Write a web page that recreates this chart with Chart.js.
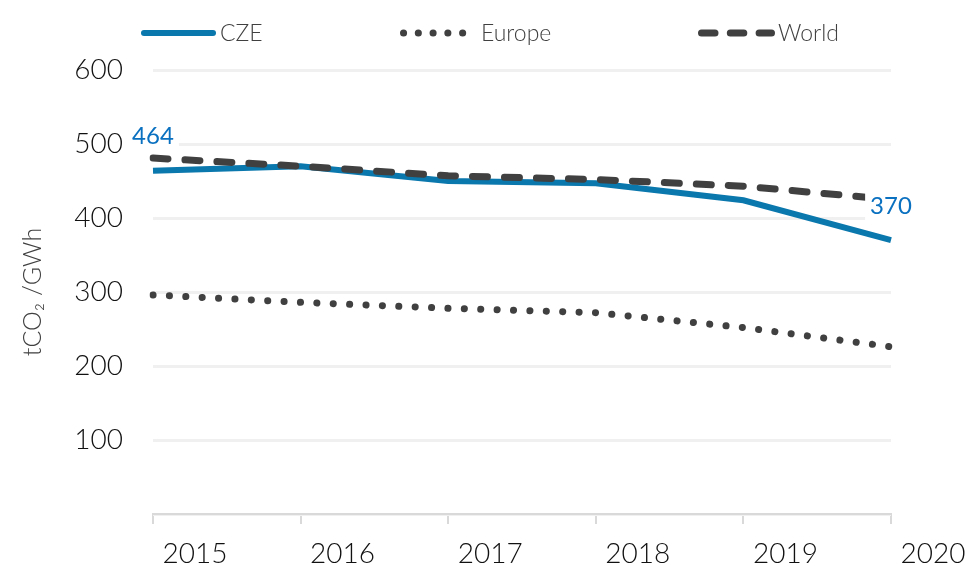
<!DOCTYPE html>
<html><head><meta charset="utf-8">
<script src="https://cdn.jsdelivr.net/npm/chart.js@4"></script>
<style>html,body{margin:0;padding:0;background:#fff}#wrap{width:973px;height:566px}</style>
</head><body><div id="wrap"><canvas id="c" width="973" height="566"></canvas></div>
<script>
const years = ['2015','2016','2017','2018','2019','2020'];
const czeValues = [464, 470, 450, 447, 424, 370];
const europeValues = [296, 286, 278, 272, 252, 226];
const worldValues = [481, 470, 457, 452, 443, 425];
const seriesNames = ['CZE', 'Europe', 'World'];
const labelledPoints = [0, 5];
const yTitle = 'tCO\u2082 /GWh';

const FONT = "Lato, 'Open Sans', sans-serif";

const legendPlugin = {
  id: 'customLegend',
  afterDraw(chart) {
    const ctx = chart.ctx;
    const starts = [141, 400, 698];
    const sampleW = [75, 74, 77];
    const textX = [220, 481, 778];
    const y = 33;
    chart.data.datasets.forEach((ds, i) => {
      ctx.save();
      ctx.strokeStyle = ds.borderColor;
      ctx.lineWidth = ds.borderWidth;
      ctx.lineCap = 'round';
      ctx.setLineDash(ds.borderDash ? ds.borderDash.map(v => v < 1 ? v : v * 0.9) : []);
      ctx.beginPath();
      ctx.moveTo(starts[i] + ds.borderWidth / 2, y);
      ctx.lineTo(starts[i] + sampleW[i] - ds.borderWidth / 2, y);
      ctx.stroke();
      ctx.setLineDash([]);
      ctx.fillStyle = '#404040';
      ctx.font = '300 23px ' + FONT;
      ctx.textBaseline = 'middle';
      ctx.textAlign = 'left';
      ctx.fillText(ds.label, textX[i], y + 1);
      ctx.restore();
    });
  }
};

const valueLabelPlugin = {
  id: 'valueLabels',
  afterDatasetsDraw(chart) {
    const ctx = chart.ctx;
    const meta = chart.getDatasetMeta(0);
    const ds = chart.data.datasets[0];
    ctx.save();
    ctx.font = '400 24px ' + FONT;
    ctx.textAlign = 'center';
    ctx.textBaseline = 'middle';
    labelledPoints.forEach(idx => {
      const pt = meta.data[idx];
      const txt = String(ds.data[idx]);
      const w = ctx.measureText(txt).width;
      const cx = pt.x, cy = pt.y - 34;
      ctx.fillStyle = '#ffffff';
      ctx.fillRect(cx - w / 2 - 5, cy - 14, w + 10, 28);
      ctx.fillStyle = '#0a70c0';
      ctx.fillText(txt, cx, cy);
    });
    ctx.restore();
  }
};

new Chart(document.getElementById('c'), {
  type: 'line',
  data: {
    labels: years,
    datasets: [
      { label: seriesNames[0], data: czeValues, borderColor: '#0a77ad', borderWidth: 6, borderCapStyle: 'butt', pointRadius: 0, tension: 0, order: 1 },
      { label: seriesNames[1], data: europeValues, borderColor: '#404040', borderWidth: 7, borderDash: [0.1, 16.3], borderCapStyle: 'round', pointRadius: 0, tension: 0, order: 2 },
      { label: seriesNames[2], data: worldValues, borderColor: '#404040', borderWidth: 7, borderDash: [15, 17], borderCapStyle: 'round', pointRadius: 0, tension: 0, order: 0 }
    ]
  },
  options: {
    responsive: false,
    animation: false,
    layout: { padding: { left: 0, right: 82, top: 70, bottom: 0 } },
    plugins: { legend: { display: false }, tooltip: { enabled: false } },
    scales: {
      x: {
        offset: false,
        afterFit(scale) { scale.height = 52; },
        grid: { drawOnChartArea: false, drawTicks: true, tickLength: 10, color: '#d9d9d9', lineWidth: 2 },
        border: { display: true, color: '#d9d9d9', width: 2 },
        ticks: { labelOffset: 42, padding: 13, autoSkip: false, maxRotation: 0, color: '#111', font: { family: FONT, size: 28, weight: '300' } }
      },
      y: {
        min: 0, max: 600,
        afterFit(scale) { scale.width = 153; },
        grid: { color: '#f0f0f0', lineWidth: 3, drawTicks: false },
        border: { display: false },
        ticks: { stepSize: 100, padding: 30, color: '#111', font: { family: FONT, size: 28, weight: '300' },
          callback: v => v === 0 ? '' : String(v) },
        title: { display: true, text: yTitle, color: '#404040', font: { family: FONT, size: 25, weight: '300' }, padding: { top: 18, bottom: 0 } }
      }
    }
  },
  plugins: [legendPlugin, valueLabelPlugin]
});
</script></body></html>
